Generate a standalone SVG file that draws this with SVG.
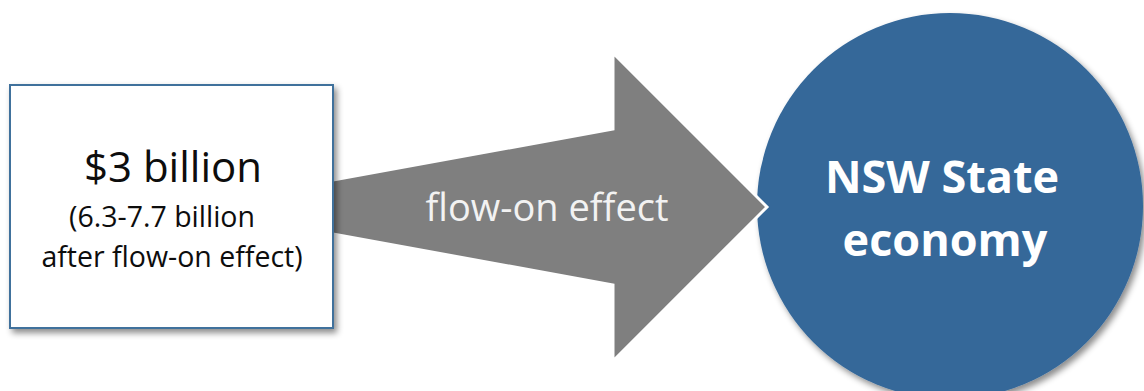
<svg xmlns="http://www.w3.org/2000/svg" width="1144" height="391" viewBox="0 0 1144 391">
<defs>
<style>
.t{font-family:"Open Sans","Liberation Sans",sans-serif;text-anchor:middle}
.dark{fill:#0d0d0d}
.light{fill:#f2f2f2}
.white{fill:#ffffff;font-weight:bold}
</style>
<filter id="sh" x="-10%" y="-10%" width="125%" height="125%">
<feDropShadow dx="3" dy="4" stdDeviation="3" flood-color="#000" flood-opacity="0.45"/>
</filter>
</defs>
<rect width="1144" height="391" fill="#ffffff"/>
<g id="economy">
<circle cx="950" cy="206" r="193" fill="#346799" filter="url(#sh)"/>
<text class="t white" x="942" y="193" font-size="45">NSW State</text>
<text class="t white" x="945" y="256" font-size="45">economy</text>
</g>
<g id="connectors">
<g id="flow-arrow">
<polygon points="300,186 613,129 613,53 767,207 613,361 613,285 300,228" fill="#7f7f7f" stroke="#ffffff" stroke-width="3" stroke-linejoin="miter"/>
<text class="t light" x="547" y="221" font-size="38">flow-on effect</text>
</g>
</g>
<g id="source">
<rect x="10" y="85" width="323" height="243" fill="#ffffff" stroke="#41719c" stroke-width="2" filter="url(#sh)"/>
<text class="t dark" x="173" y="182" font-size="42">$3 billion</text>
<text class="t dark" x="162" y="227" font-size="28.5">(6.3-7.7 billion</text>
<text class="t dark" x="172" y="267" font-size="28.5">after flow-on effect)</text>
</g>
</svg>
